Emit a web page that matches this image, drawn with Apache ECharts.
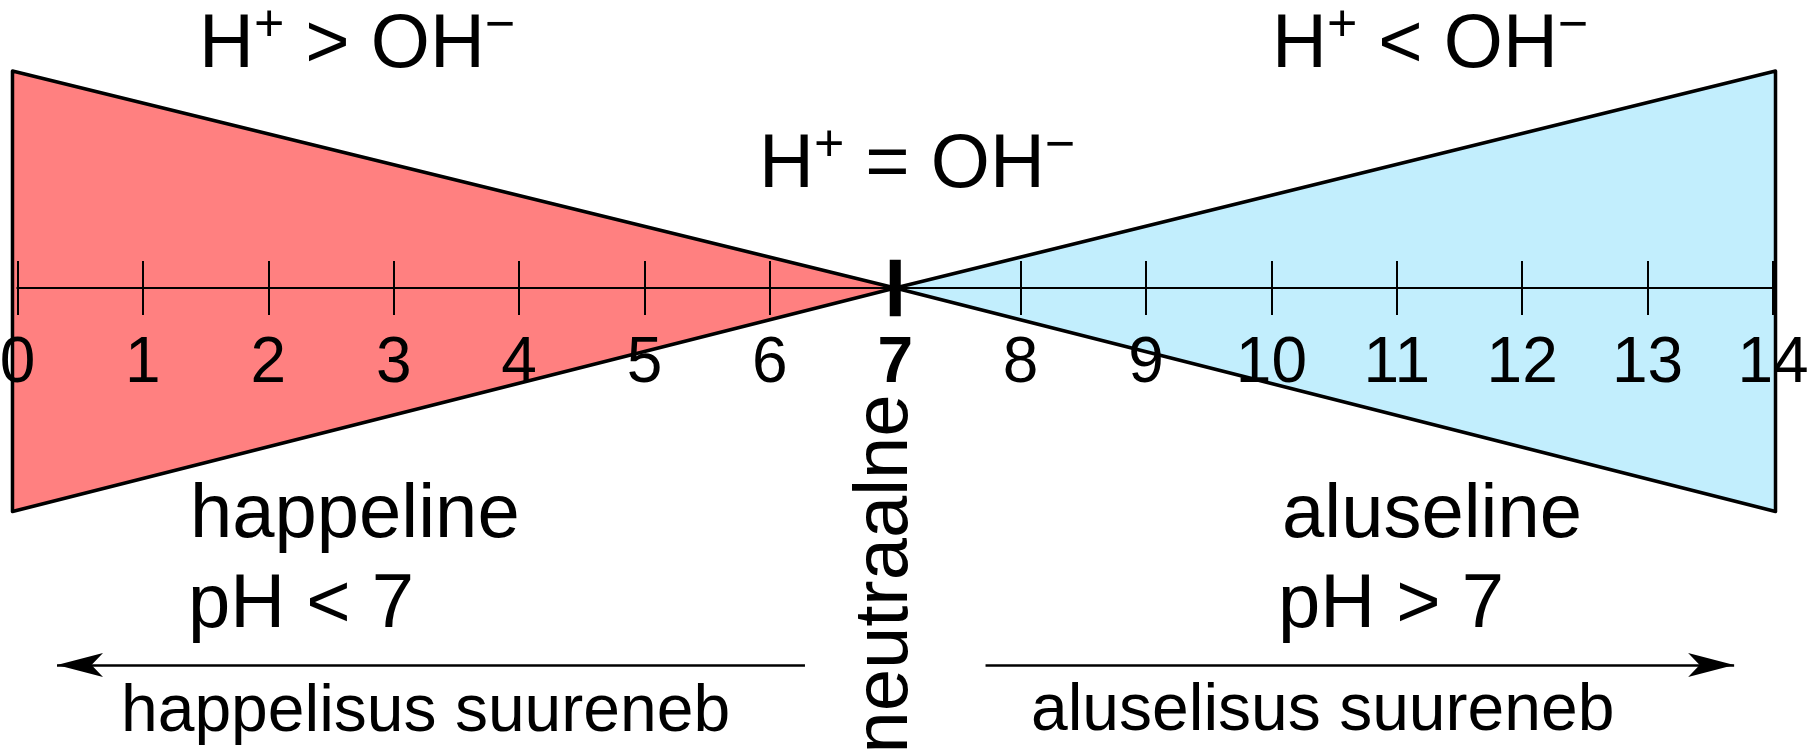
<!DOCTYPE html>
<html>
<head>
<meta charset="utf-8">
<script src="https://cdn.jsdelivr.net/npm/echarts@6/dist/echarts.min.js"></script>
<style>
html,body{margin:0;padding:0;background:#fff;}
#c{width:1813px;height:754px;}
</style>
</head>
<body>
<div id="c"></div>
<script>
// ---- data ----
const phMin = 0;
const phMax = 14;
const phStep = 1;
const neutralPH = 7;
// acidic wedge (H+ excess), red
const acidX = [-0.04, 7, -0.04];
const acidY = [1.0, 0, -1.03];
// basic wedge (OH- excess), blue
const baseX = [14.02, 7, 14.02];
const baseY = [1.0, 0, -1.03];
// bold neutral tick
const neutralTickY = [-0.13, 0.13];
// direction arrows (pH from -> to) and their level
const acidArrowX = [6.28, 0.315];
const baseArrowX = [7.72, 13.69];
const arrowLevel = -1.737;
// texts
const labelAcidTop = ['H', '+', ' > OH', '\u2212'];
const labelNeutral = ['H', '+', ' = OH', '\u2212'];
const labelBaseTop = ['H', '+', ' < OH', '\u2212'];
const acidTitle = 'happeline';
const acidRule = 'pH < 7';
const baseTitle = 'aluseline';
const baseRule = 'pH > 7';
const neutralWord = 'neutraalne';
const acidArrowText = 'happelisus suureneb';
const baseArrowText = 'aluselisus suureneb';

const FONT = '"Liberation Sans", Arial, sans-serif';
const RED = '#FF8080';
const BLUE = '#C2EEFD';

function wedge(xs, ys, color) {
  return {
    type: 'custom',
    coordinateSystem: 'cartesian2d',
    xAxisIndex: 0, yAxisIndex: 0,
    z: 1,
    silent: true,
    clip: false,
    data: [[xs[1], ys[1]]],
    renderItem: function (params, api) {
      const pts = xs.map(function (x, i) { return api.coord([x, ys[i]]); });
      return {
        type: 'polygon',
        shape: { points: pts },
        style: { fill: color, stroke: '#000', lineWidth: 3.5, lineJoin: 'round' }
      };
    }
  };
}

function ionText(parts, x, y) {
  return {
    type: 'text', x: x, y: y, z: 10, silent: true,
    style: {
      text: '{m|' + parts[0] + '}{s|' + parts[1] + '}{m|' + parts[2] + '}{s|' + parts[3] + '}',
      align: 'left', verticalAlign: 'top',
      rich: {
        m: { fontSize: 76, fontFamily: FONT, lineHeight: 83, verticalAlign: 'bottom', fill: '#000' },
        s: { fontSize: 52, fontFamily: FONT, verticalAlign: 'top', fill: '#000' }
      }
    }
  };
}

function plainText(t, x, y, size, rot) {
  return {
    type: 'text', x: x, y: y, z: 10, silent: true, rotation: rot || 0,
    style: {
      text: t, fontSize: size, fontFamily: FONT, fill: '#000',
      align: rot ? 'center' : 'left', verticalAlign: 'middle'
    }
  };
}

const gridLR = { left: 17.5, right: 40 };
const tickStyle = { show: true, inside: false, length: 27, lineStyle: { color: '#000', width: 2 } };

function phAxis(gridIndex, position, withLabels) {
  return {
    type: 'value', gridIndex: gridIndex, position: position,
    min: phMin, max: phMax, interval: phStep, z: 3,
    show: gridIndex !== 0,
    axisLine: { show: gridIndex !== 0, onZero: false, lineStyle: { color: '#000', width: 2 } },
    axisTick: tickStyle,
    splitLine: { show: false },
    axisLabel: withLabels ? {
      show: true, margin: 44, showMinLabel: true, showMaxLabel: true,
      fontSize: 64, fontFamily: FONT, color: '#000',
      formatter: function (v) { return v === neutralPH ? '{b|' + v + '}' : String(v); },
      rich: { b: { fontSize: 64, fontFamily: FONT, fontWeight: 'bold', color: '#000' } }
    } : { show: false }
  };
}

const chart = echarts.init(document.getElementById('c'), null, { renderer: 'canvas' });
chart.setOption({
  animation: false,
  backgroundColor: '#fff',
  grid: [
    Object.assign({ top: 16.75, bottom: 32, containLabel: false, outerBoundsMode: 'none' }, gridLR),
    Object.assign({ top: 16.75, bottom: 754 - 288, containLabel: false, outerBoundsMode: 'none' }, gridLR),
    Object.assign({ top: 288, bottom: 32, containLabel: false, outerBoundsMode: 'none' }, gridLR)
  ],
  xAxis: [
    phAxis(0, 'bottom', false),
    phAxis(1, 'bottom', true),
    phAxis(2, 'top', false)
  ],
  yAxis: [
    { type: 'value', gridIndex: 0, min: -2, max: 1.25, show: false, splitLine: { show: false } },
    { type: 'value', gridIndex: 1, min: 0, max: 1, show: false, splitLine: { show: false } },
    { type: 'value', gridIndex: 2, min: 0, max: 1, show: false, splitLine: { show: false } }
  ],
  series: [
    wedge(acidX, acidY, RED),
    wedge(baseX, baseY, BLUE),
    {
      type: 'line', z: 4, silent: true, symbol: 'none',
      xAxisIndex: 0, yAxisIndex: 0,
      data: [[neutralPH, neutralTickY[0]], [neutralPH, neutralTickY[1]]],
      lineStyle: { color: '#000', width: 11, cap: 'butt' },
      markLine: {
        silent: true, animation: false,
        symbol: ['none', 'arrow'],
        label: { show: false },
        emphasis: { disabled: true },
        lineStyle: { color: '#000', width: 2.5, type: 'solid' },
        data: [
          [{ coord: [acidArrowX[0], arrowLevel], symbol: 'none' },
           { coord: [acidArrowX[1], arrowLevel], symbol: 'arrow', symbolSize: [18, 46] }],
          [{ coord: [baseArrowX[0], arrowLevel], symbol: 'none' },
           { coord: [baseArrowX[1], arrowLevel], symbol: 'arrow', symbolSize: [18, 46] }]
        ]
      }
    }
  ],
  graphic: [
    ionText(labelAcidTop, 199, 0.6),
    ionText(labelNeutral, 759, 120.6),
    ionText(labelBaseTop, 1272, 0.6),
    plainText(acidTitle, 190, 515.7, 76),
    plainText(acidRule, 188, 605.7, 76),
    plainText(baseTitle, 1282, 515.7, 76),
    plainText(baseRule, 1278, 605.7, 76),
    plainText(acidArrowText, 121, 713, 66),
    plainText(baseArrowText, 1031, 712, 66),
    plainText(neutralWord, 885.7, 574, 76, Math.PI / 2)
  ]
});
</script>
</body>
</html>
